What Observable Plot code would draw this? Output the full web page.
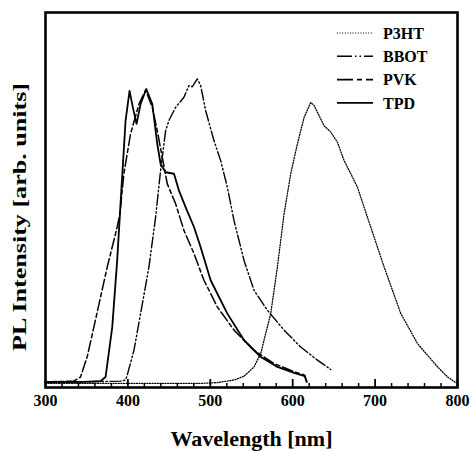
<!DOCTYPE html>
<html>
<head>
<meta charset="utf-8">
<script src="https://cdn.jsdelivr.net/npm/d3@7"></script>
<script src="https://cdn.jsdelivr.net/npm/@observablehq/plot@0.6"></script>
<style>
  html, body { margin: 0; padding: 0; background: #fff; }
  #chart { width: 472px; height: 451px; }
  svg { font-family: "Liberation Serif", "Times New Roman", serif; }
</style>
</head>
<body>
<div id="chart"></div>
<script>
// Series names (legend order)
const seriesNames = ["P3HT", "BBOT", "PVK", "TPD"];

// Wavelength (nm) / PL intensity (arb. units, 0-100 of frame height)
const p3htX = [300, 400, 488, 508.5, 528.8, 540.9, 553.1, 561.2, 573.3, 581.4, 589.5, 597.6, 605.7, 613.8, 621.9, 626, 632, 638.1, 646.2, 654.3, 662.4, 670.5, 678.6, 690.7, 711, 731.2, 751.5, 775.8, 788, 799.2];
const p3htY = [1.1, 1.1, 1.1, 1.3, 2.0, 3.0, 5.5, 9.1, 19.7, 32.1, 46.3, 57.0, 65.0, 72.0, 76.0, 75.2, 72.5, 69.8, 68.1, 65.4, 60.5, 57.0, 53.4, 45.4, 32.1, 19.7, 11.7, 5.5, 2.8, 1.1];

const bbotX = [300, 391.1, 397.2, 399.2, 407.3, 415.4, 425.5, 433.6, 439.7, 445.8, 449.8, 457.9, 468, 474.1, 478.2, 480.2, 484.2, 488.3, 494.4, 504.5, 512.6, 520.7, 528.8, 540.9, 553.1, 569.3, 589.5, 609.7, 630, 646.2];
const bbotY = [1.3, 1.7, 2.0, 3.3, 9.9, 19.7, 32.1, 45.4, 57.9, 68.5, 71.2, 74.7, 77.4, 80.5, 80.2, 80.9, 82.3, 80.5, 73.8, 65.8, 60.5, 53.4, 44.5, 33.9, 25.9, 20.6, 15.3, 10.8, 7.3, 4.8];

const pvkX = [300, 334.4, 342.5, 350.6, 358.7, 374.9, 387, 390.3, 395.1, 403.2, 413.4, 421.5, 429.6, 435.6, 441.7, 447.8, 457.9, 468, 480.2, 492.3, 508.5, 528.8, 553, 577.4, 601.7, 614.6, 617];
const pvkY = [1.5, 1.7, 2.8, 8.2, 16.1, 32.1, 42.8, 46.3, 57.0, 67.6, 75.6, 79.3, 74.7, 68.5, 61.4, 54.3, 49.0, 41.9, 35.7, 28.6, 21.5, 15.3, 9.9, 6.4, 4.2, 3.3, 1.5];

const tpdX = [300, 346.6, 366.8, 372.9, 381, 387, 393, 397.2, 402, 406, 410.5, 415.4, 422.3, 429.6, 435.6, 439.7, 445.8, 455.9, 462, 470, 480.2, 488.3, 500.4, 520.7, 541, 561, 581.4, 601.7, 614.6, 617];
const tpdY = [1.5, 1.5, 1.7, 2.8, 16.1, 33.9, 56.1, 71.2, 79.1, 74.7, 70.3, 75.6, 79.6, 75.6, 65.0, 59.6, 57.4, 57.0, 52.5, 48.1, 42.8, 37.4, 28.6, 19.7, 12.6, 8.2, 5.5, 3.9, 3.0, 1.5];

const majorTicks = [300, 400, 500, 600, 700, 800];
const minorTicks = d3.range(300, 801, 20).filter(v => v % 100 !== 0);

const xTitle = "Wavelength [nm]";
const yTitle = "PL Intensity [arb. units]";

const styles = {
  P3HT: {dash: "1,1.6", width: 1.3, legendDash: "1,1.6", legendWidth: 1},
  BBOT: {dash: "11,2.5,1.5,2.5,1.5,2.5", width: 1.4, legendDash: "15,3,1.5,3,1.5,3", legendWidth: 1.6},
  PVK:  {dash: "11,3,4,3", width: 1.5, legendDash: "16,4,5,4", legendWidth: 1.6},
  TPD:  {dash: null, width: 1.8, legendDash: null, legendWidth: 1.8}
};

const toRows = (name, xs, ys) => xs.map((x, i) => ({name, x, y: ys[i]}));
const data = {
  P3HT: toRows("P3HT", p3htX, p3htY),
  BBOT: toRows("BBOT", bbotX, bbotY),
  PVK: toRows("PVK", pvkX, pvkY),
  TPD: toRows("TPD", tpdX, tpdY)
};

const lineMarks = seriesNames.map(n => Plot.line(data[n], {
  x: "x", y: "y", stroke: "black",
  strokeWidth: styles[n].width,
  strokeDasharray: styles[n].dash,
  strokeLinejoin: "round"
}));

const svg = Plot.plot({
  width: 472,
  height: 451,
  marginLeft: 45,
  marginRight: 15,
  marginTop: 12,
  marginBottom: 64,
  style: {fontFamily: "'Liberation Serif', 'Times New Roman', serif", background: "white"},
  x: {domain: [300, 800]},
  y: {domain: [0, 100], axis: null},
  marks: [
    ...lineMarks,
    Plot.axisX(minorTicks, {tickSize: -4, text: null, label: null, strokeWidth: 1.5}),
    Plot.axisX(majorTicks, {tickSize: -8, text: null, label: null, strokeWidth: 1.8}),
    Plot.axisX(majorTicks, {tickSize: 0, tickPadding: 7, fontSize: 16, fontWeight: "bold", label: null}),
    Plot.frame({stroke: "black", strokeWidth: 2.6}),
    Plot.text([xTitle], {frameAnchor: "bottom", dy: 52, fontSize: 21, fontWeight: "bold", lineAnchor: "middle", textAnchor: "middle"}),
    Plot.text([yTitle], {frameAnchor: "left", rotate: -90, dx: -25, dy: 17, fontSize: 18, fontWeight: "bold", lineAnchor: "middle", textAnchor: "middle"})
  ]
});

// Fit title widths to the reference
d3.select(svg).selectAll("text").each(function() {
  const t = this.textContent;
  if (t === xTitle) { this.setAttribute("textLength", 162); this.setAttribute("lengthAdjust", "spacingAndGlyphs"); }
  if (t === yTitle) { this.setAttribute("textLength", 268); this.setAttribute("lengthAdjust", "spacingAndGlyphs"); }
});

// Legend (top-right inside frame)
const frameRight = 472 - 15;
const lg = d3.select(svg).append("g")
  .attr("font-weight", "bold").attr("font-size", 16).attr("text-anchor", "start");
seriesNames.forEach((n, i) => {
  const yy = 33 + i * 23.3;
  lg.append("line")
    .attr("x1", frameRight - 120).attr("x2", frameRight - 84)
    .attr("y1", yy).attr("y2", yy)
    .attr("stroke", "black")
    .attr("stroke-width", styles[n].legendWidth)
    .attr("stroke-dasharray", styles[n].legendDash);
  lg.append("text")
    .attr("x", frameRight - 74).attr("y", yy)
    .attr("dy", "0.35em")
    .attr("fill", "black")
    .text(n);
});

document.getElementById("chart").appendChild(svg);
</script>
</body>
</html>
